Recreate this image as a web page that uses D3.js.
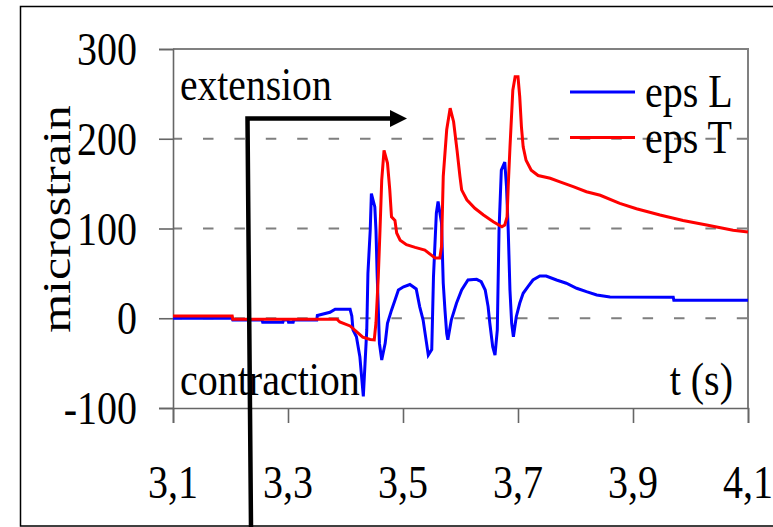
<!DOCTYPE html>
<html>
<head>
<meta charset="utf-8">
<script src="https://cdn.jsdelivr.net/npm/d3@7"></script>
<style>
  html, body { margin: 0; padding: 0; background: #fff; }
  svg { display: block; }
</style>
</head>
<body>
<svg id="chart" width="773" height="527" font-family="'Liberation Serif', 'DejaVu Serif', serif"></svg>
<script>
// Time axis (s) and strain readings (microstrain)
const xTicks = [3.1, 3.3, 3.5, 3.7, 3.9, 4.1];
const yTicks = [-100, 0, 100, 200, 300];
const gridValues = [0, 100, 200];

const tL = [3.100, 3.203, 3.204, 3.255, 3.256, 3.291, 3.292, 3.300, 3.301, 3.309, 3.310, 3.350, 3.351, 3.373, 3.382, 3.408,
  3.411, 3.413, 3.419, 3.425, 3.428, 3.431, 3.434, 3.437, 3.439, 3.443, 3.445, 3.451, 3.453, 3.455, 3.459, 3.463,
  3.469, 3.473, 3.480, 3.486, 3.492, 3.501, 3.512, 3.523, 3.529, 3.535, 3.541, 3.544, 3.550, 3.553, 3.558, 3.561,
  3.567, 3.570, 3.573, 3.576, 3.578, 3.584, 3.593, 3.602, 3.613, 3.628, 3.636, 3.643, 3.648, 3.651, 3.656, 3.660,
  3.664, 3.667, 3.671, 3.677, 3.680, 3.683, 3.686, 3.689, 3.692, 3.697, 3.703, 3.709, 3.717, 3.726, 3.738, 3.749,
  3.767, 3.784, 3.802, 3.819, 3.837, 3.860, 3.970, 3.971, 4.100];
const epsL = [0, 0, -2, -2, -4.5, -4.5, -2, -2, -4.5, -4.5, -2, -2, 3, 6.6, 10, 10,
  2.5, -13, -20.6, -43, -65, -87, -50, -13, 50, 98, 139, 124, 98, 50, -28, -46.5,
  -28, -5.6, 9, 20, 31.5, 35, 37.6, 32.6, 13, -2, -28, -41, -35, 46, 117, 130,
  106, 39, 9, -17, -24, -2, 16.7, 31.5, 42.6, 43.4, 40.7, 31.5, 13, -5.6, -31.7, -41,
  -13, 98, 165, 174, 146.6, 98, 31.5, -5.6, -20.6, 1.7, 16.7, 27.8, 35, 42.6, 47, 47,
  42.6, 39, 33.4, 29.6, 26, 23.7, 23.3, 20, 20];

const tT = [3.100, 3.203, 3.204, 3.385, 3.390, 3.408, 3.430, 3.443, 3.450, 3.453, 3.457, 3.460, 3.463, 3.467, 3.473, 3.477,
  3.480, 3.486, 3.489, 3.495, 3.506, 3.521, 3.538, 3.556, 3.564, 3.567, 3.570, 3.576, 3.582, 3.588, 3.594, 3.599,
  3.602, 3.611, 3.625, 3.640, 3.657, 3.672, 3.677, 3.681, 3.683, 3.686, 3.691, 3.695, 3.700, 3.703, 3.706, 3.709,
  3.714, 3.723, 3.735, 3.756, 3.773, 3.796, 3.819, 3.843, 3.877, 3.906, 3.947, 3.987, 4.028, 4.074, 4.100];
const epsT = [2.5, 2.5, -1, -1, -4, -8.6, -21, -23.7, -24, -5, 46, 98, 154, 187, 173, 143,
  113, 109, 95, 87, 82, 79, 76, 67, 67, 80, 158, 210, 234, 219, 187, 158,
  143, 132, 122.5, 115, 107.5, 102, 104, 113, 147, 190, 254, 269, 269, 247, 213, 191,
  176, 165, 159, 156, 152, 146.6, 141, 137, 128, 122, 115, 109, 104, 98, 96];

const seriesNames = ["eps L", "eps T"];
const seriesColors = ["#0000ff", "#ff0000"];

const svg = d3.select("#chart");
const x = d3.scaleLinear().domain([3.1, 4.1]).range([173, 748]);
const y = d3.scaleLinear().domain([-100, 300]).range([408, 49]);

const loc = d3.formatLocale({ decimal: ",", thousands: ".", grouping: [3], currency: ["", ""], minus: "-" });
const fx = loc.format(".1f");
const fy = loc.format("d");

const FS = 40, SY = 1.14; // label font size and vertical stretch
const FONT = "'Liberation Serif', 'DejaVu Serif', serif";

// outer frame
svg.append("rect").attr("x", 20.5).attr("y", 6.5).attr("width", 770).attr("height", 519.5)
  .attr("fill", "none").attr("stroke", "#000").attr("stroke-width", 1.5);

// dashed horizontal gridlines
svg.append("g").selectAll("line").data(gridValues).join("line")
  .attr("x1", x(3.1)).attr("x2", x(4.1))
  .attr("y1", d => y(d)).attr("y2", d => y(d))
  .attr("stroke", "#7f7f7f").attr("stroke-width", 2)
  .attr("stroke-dasharray", "10.5 20.9").attr("stroke-dashoffset", 1.4);

// plot area top and right edges
svg.append("path")
  .attr("d", `M${x(3.1)},${y(300)}H${x(4.1)}V${y(-100)}`)
  .attr("fill", "none").attr("stroke", "#808080").attr("stroke-width", 2);

// axes
const axisColor = "#666";
const gx = svg.append("g").attr("transform", `translate(0,${y(-100)})`)
  .call(d3.axisBottom(x).tickValues(xTicks).tickSize(15).tickFormat(""));
const gy = svg.append("g").attr("transform", `translate(${x(3.1)},0)`)
  .call(d3.axisLeft(y).tickValues(yTicks).tickSize(14).tickFormat(""));
[gx, gy].forEach(g => {
  g.select(".domain").attr("stroke", axisColor).attr("stroke-width", 1.6);
  g.selectAll(".tick line").attr("stroke", axisColor).attr("stroke-width", 1.6);
});

const label = (sel) => sel.attr("font-family", FONT).attr("font-size", FS).attr("fill", "#000");

// tick labels
svg.append("g").selectAll("text").data(xTicks).join("text")
  .attr("transform", d => `translate(${x(d)},498) scale(1,${SY})`)
  .attr("text-anchor", "middle").call(label).text(d => fx(d));
svg.append("g").selectAll("text").data(yTicks).join("text")
  .attr("transform", d => `translate(137,${y(d) + 16}) scale(1,${SY})`)
  .attr("text-anchor", "end").call(label).text(d => fy(d));

// axis titles and annotations
svg.append("text").attr("transform", `translate(70,219) rotate(-90) scale(1.25,1)`)
  .attr("text-anchor", "middle").call(label).text("microstrain");
svg.append("text").attr("transform", `translate(180,100) scale(0.99,${SY})`)
  .call(label).text("extension");
svg.append("text").attr("transform", `translate(180,395) scale(1,${SY})`)
  .call(label).text("contraction");
svg.append("text").attr("transform", `translate(733,395) scale(1,${SY})`)
  .attr("text-anchor", "end").call(label).text("t (s)");

// strain curves
const line = d3.line().x(d => x(d[0])).y(d => y(d[1]));
const series = [d3.zip(tL, epsL), d3.zip(tT, epsT)];
svg.append("g").selectAll("path").data(series).join("path")
  .attr("d", line).attr("fill", "none")
  .attr("stroke", (d, i) => seriesColors[i]).attr("stroke-width", 3);

// legend
const lg = svg.append("g").selectAll("g").data(seriesNames).join("g")
  .attr("transform", (d, i) => `translate(0,${92 + i * 45.5})`);
lg.append("line").attr("x1", 570).attr("x2", 635).attr("y1", 0).attr("y2", 0)
  .attr("stroke", (d, i) => seriesColors[i]).attr("stroke-width", 3);
lg.append("text").attr("transform", `translate(645,15) scale(1,${SY})`)
  .call(label).text(d => d);

// loading direction arrow
svg.append("path").attr("d", "M251,527L247.5,118.5H391")
  .attr("fill", "none").attr("stroke", "#000").attr("stroke-width", 4.5);
svg.append("path").attr("d", "M390,110L407,118.5L390,127Z").attr("fill", "#000");
</script>
</body>
</html>
